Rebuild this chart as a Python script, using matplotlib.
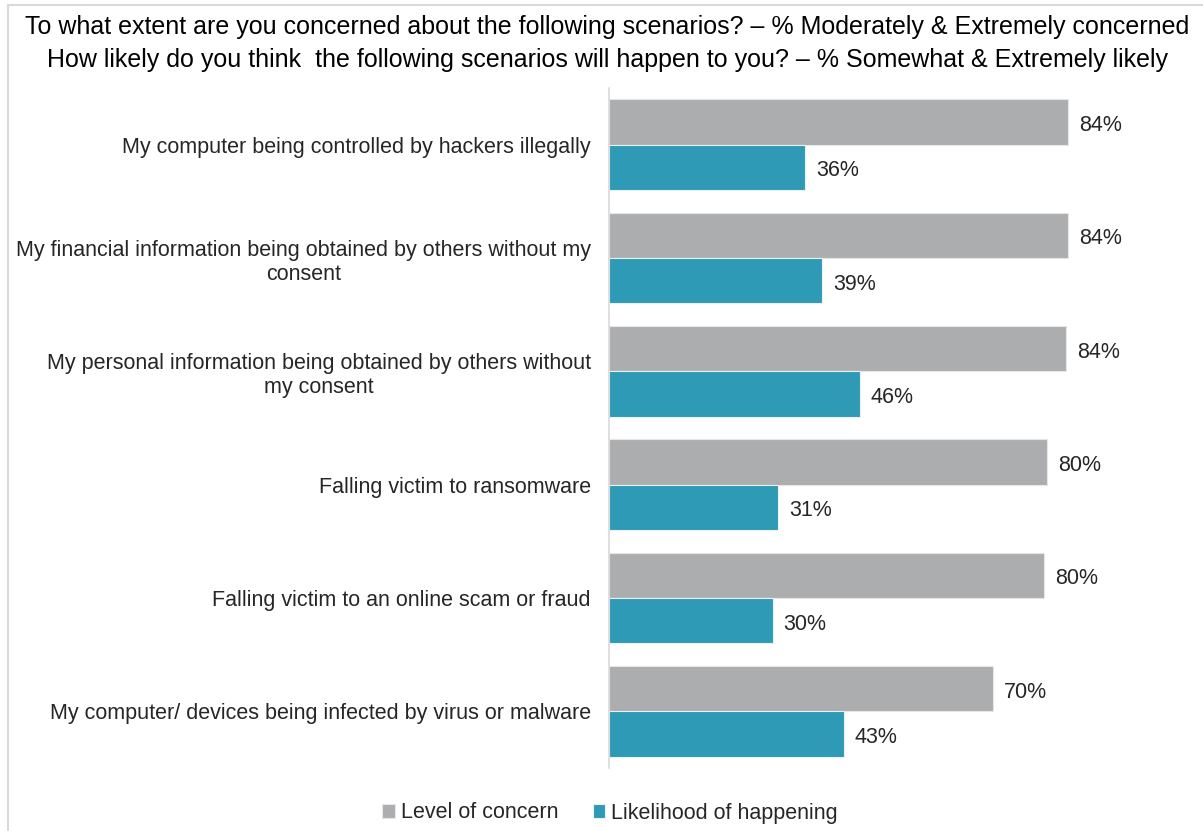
import numpy as np
import matplotlib.pyplot as plt
from matplotlib.patches import Rectangle

plt.rcParams['font.family'] = ['Liberation Sans', 'DejaVu Sans']

# Data
categories = [
    "My computer being controlled by hackers illegally",
    "My financial information being obtained by others without my\nconsent",
    "My personal information being obtained by others without\nmy consent",
    "Falling victim to ransomware",
    "Falling victim to an online scam or fraud",
    "My computer/ devices being infected by virus or malware",
]
concern = [84, 84, 84, 80, 80, 70]
likelihood = [36, 39, 46, 31, 30, 43]
concern_bars = [84.1, 84.1, 83.7, 80.2, 79.7, 70.3]
series_names = ["Level of concern", "Likelihood of happening"]

gray = '#acadaf'
teal = '#2e9ab5'
txt = '#262626'

fig = plt.figure(figsize=(12.03, 8.31), dpi=100)
# light frame around the picture
fig.patches.append(Rectangle((8/1203, -0.01), 1.2, 1 - 5/831 + 0.01,
                             transform=fig.transFigure, fill=False,
                             edgecolor='#d9d9d9', linewidth=1.5))

ax = fig.add_axes([609/1203, 1 - 768/831, 0.49, 680/831])

y = np.arange(len(categories))
h = 0.4
ax.barh(y - h/2, concern_bars, height=h, color=gray, edgecolor='#e6e6e6',
        linewidth=0.8, label=series_names[0])
ax.barh(y + h/2, likelihood, height=h, color=teal, edgecolor='#e6f2f6',
        linewidth=0.8, label=series_names[1])

for i in range(len(categories)):
    ax.text(concern_bars[i] + 2.0, y[i] - h/2 + 0.03, f"{concern[i]}%",
            va='center', ha='left', fontsize=15.5, color=txt)
    ax.text(likelihood[i] + 2.0, y[i] + h/2 + 0.03, f"{likelihood[i]}%",
            va='center', ha='left', fontsize=15.5, color=txt)

ax.set_xlim(0, 108)
ax.set_ylim(len(categories) - 0.5, -0.5)
ax.set_xticks([])
ax.set_yticks(y)
ax.set_yticklabels(categories, fontsize=15.5, color=txt, multialignment='center')
ax.tick_params(axis='y', length=0, pad=13)
for s in ['top', 'right', 'bottom']:
    ax.spines[s].set_visible(False)
ax.spines['left'].set_color('#d9d9d9')
ax.spines['left'].set_linewidth(1.2)

fig.text(0.505, 1 - 27/831, "To what extent are you concerned about the following scenarios? \u2013 % Moderately & Extremely concerned",
         ha='center', va='center', fontsize=18, color='black')
fig.text(0.505, 1 - 60/831, "How likely do you think  the following scenarios will happen to you? \u2013 % Somewhat & Extremely likely",
         ha='center', va='center', fontsize=18, color='black')

leg = fig.legend(loc='center', bbox_to_anchor=(0.507, 1 - 813/831), ncol=2,
                 frameon=False, fontsize=15.5, handlelength=0.6, handleheight=0.6,
                 handletextpad=0.25, columnspacing=1.6)
for t in leg.get_texts():
    t.set_color(txt)

fig.savefig('out.png', dpi=100)
